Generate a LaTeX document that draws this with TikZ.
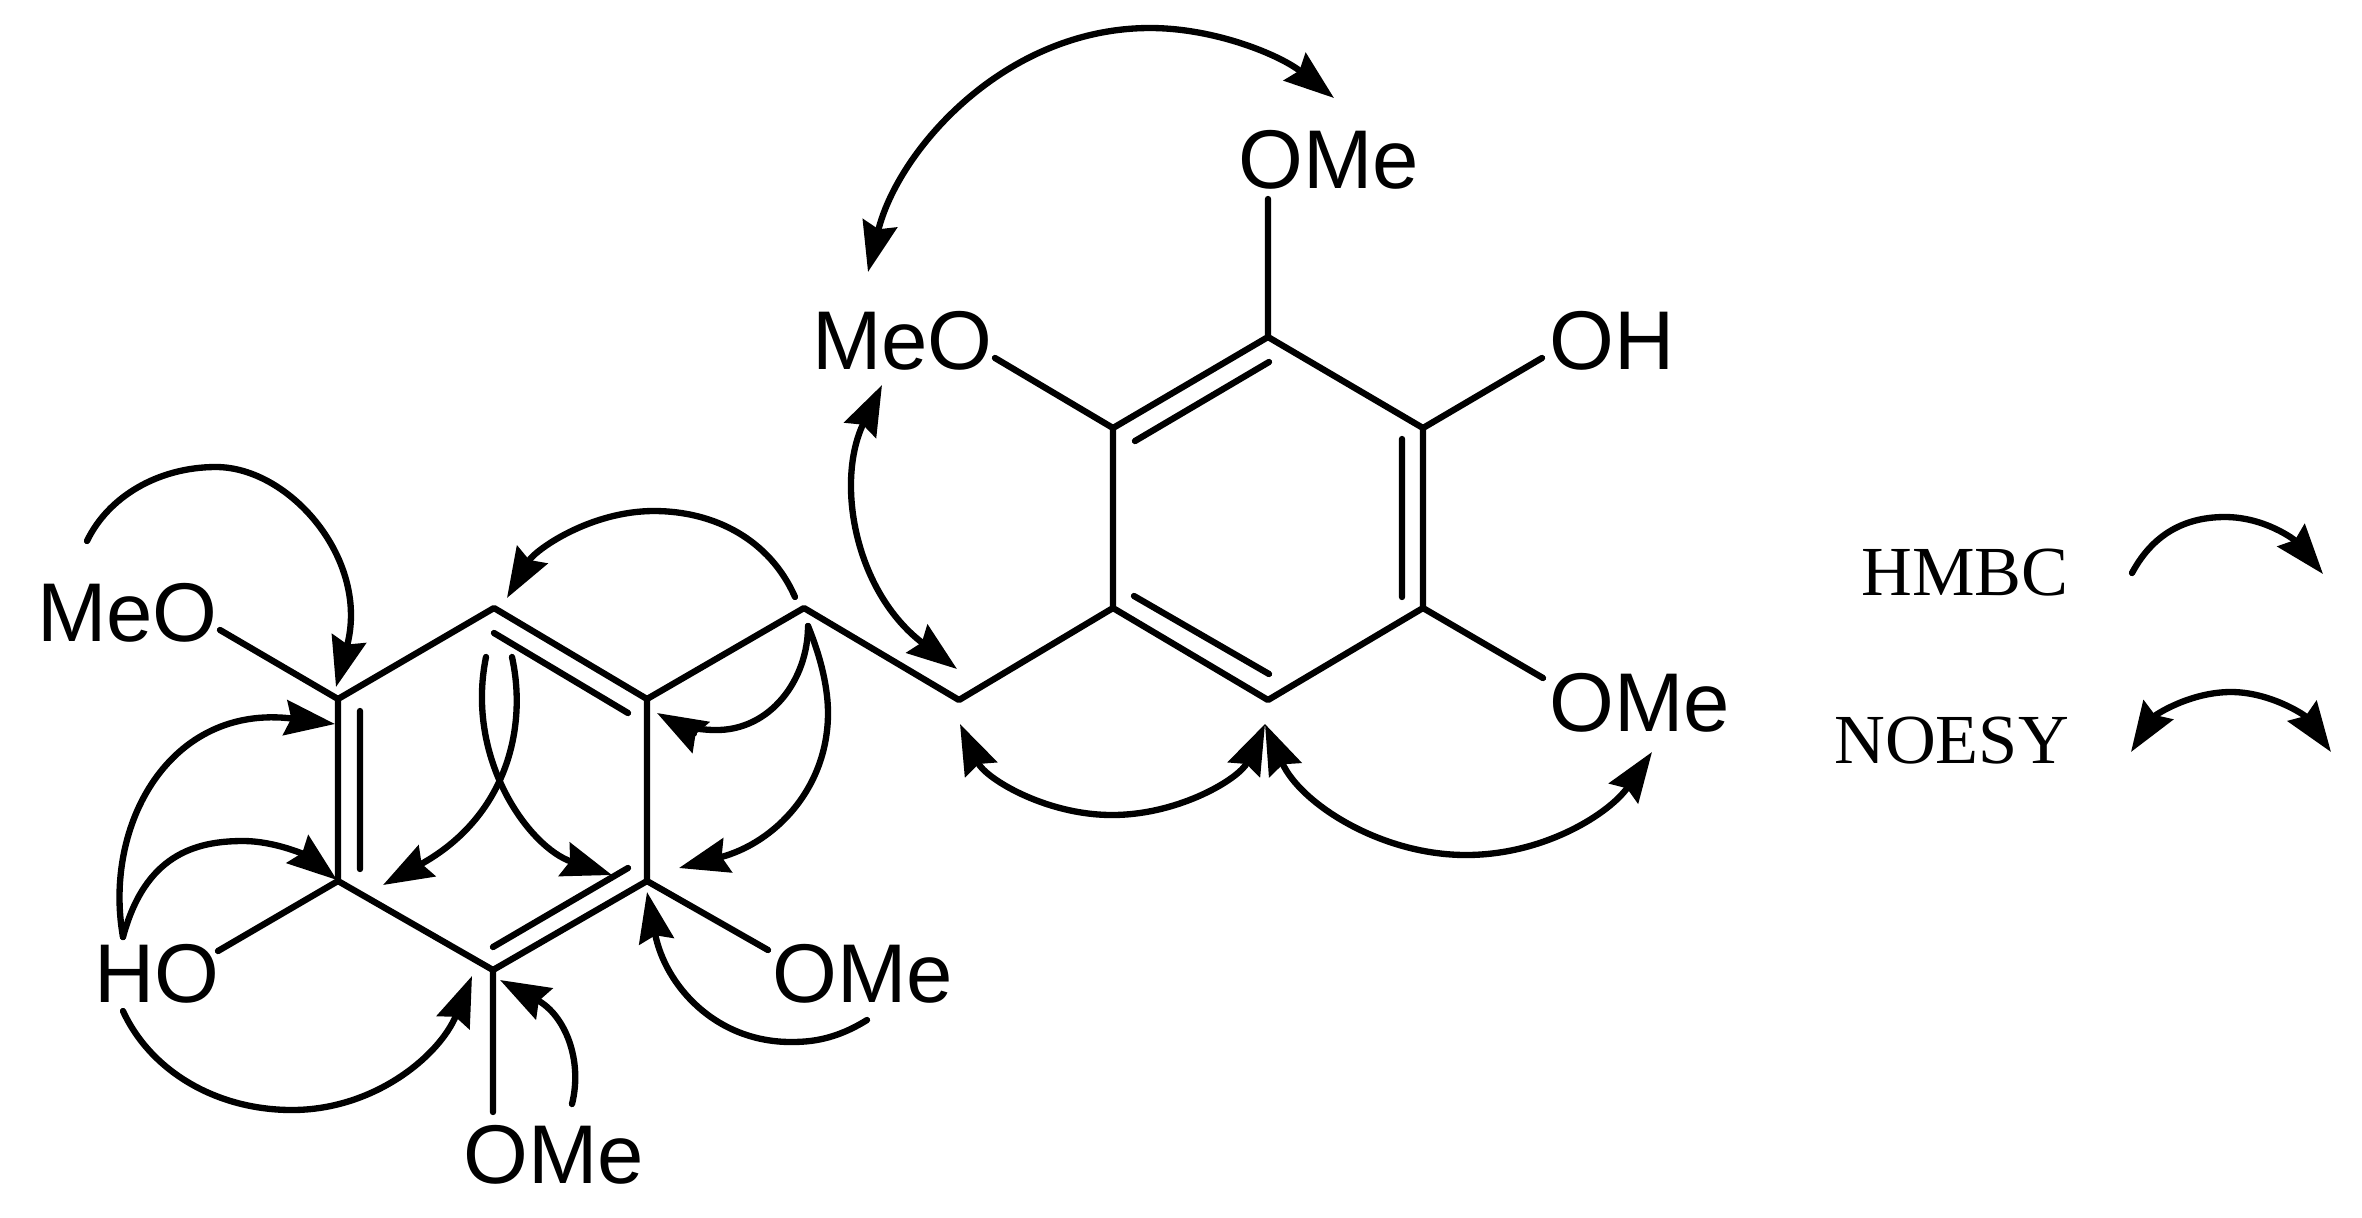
\documentclass[tikz,border=0pt]{standalone}
\usepackage{fontspec}
\setmainfont{Liberation Serif}
\setsansfont{Liberation Sans}
\usetikzlibrary{arrows.meta}

\begin{document}
\begin{tikzpicture}[x=0.01cm,y=-0.01cm,>={Stealth[length=5mm,width=3.5mm,inset=0.6mm]},inner sep=0pt,
  line width=1.8pt,line cap=round,line join=round,
  chem/.style={anchor=base west,font=\sffamily\fontsize{23.7}{24}\selectfont},
  legend/.style={anchor=base east,font=\fontsize{20}{20}\selectfont}]
\useasboundingbox (0,0) rectangle (2362,1217);
% left ring
\coordinate (a1) at (338,699);
\coordinate (a2) at (494,608);
\coordinate (a3) at (647,699);
\coordinate (a4) at (647,881);
\coordinate (a5) at (493,970);
\coordinate (a6) at (338,881);
\coordinate (i1) at (494,633);  \coordinate (i2) at (628,713);
\coordinate (i3) at (360,711);  \coordinate (i4) at (360,869);
\coordinate (i5) at (628,868);  \coordinate (i6) at (493,947);
% bridge
\coordinate (c1) at (804,608);
\coordinate (c2) at (959,700);
% right ring
\coordinate (b1) at (1113,428);
\coordinate (b2) at (1268,337);
\coordinate (b3) at (1423,428);
\coordinate (b4) at (1423,608);
\coordinate (b5) at (1268,700);
\coordinate (b6) at (1113,608);
\coordinate (j1) at (1135,441);  \coordinate (j2) at (1269,362);
\coordinate (j3) at (1402,439);  \coordinate (j4) at (1402,597);
\coordinate (j5) at (1134,596);  \coordinate (j6) at (1269,674);
%
\node[chem] (l1) at (34,641) {MeO};
\node[chem] (l2) at (91,1002) {HO};
\node[chem] (l3) at (769,1002) {OMe};
\node[chem] (l4) at (460,1183) {OMe};
\node[chem] (r1) at (1235,188) {OMe};
\node[chem] (r2) at (809,369) {MeO};
\node[chem] (r3) at (1546,369) {OH};
\node[chem] (r4) at (1546,731) {OMe};
\node[legend] (k1) at (2072,595) {HMBC};
\node[legend] (k2) at (2072,763) {NOESY};
% bond ends at the oxygens
\coordinate (o1) at (220,630);
\coordinate (o2) at (218,951);
\coordinate (o3) at (768,950);
\coordinate (o4) at (493,1112);
\coordinate (o5) at (1268,199);
\coordinate (o6) at (995,358);
\coordinate (o7) at (1542,358);
\coordinate (o8) at (1543,678);
%%
\draw (a1) -- (a2) -- (a3) -- (a4) -- (a5) -- (a6) -- cycle
 (i1) -- (i2) (i3) -- (i4) (i5) -- (i6)
 (a3) -- (c1) -- (c2) -- (b6)
 (b1) -- (b2) -- (b3) -- (b4) -- (b5) -- (b6) -- cycle
 (j1) -- (j2) (j3) -- (j4) (j5) -- (j6)
 (a1) -- (o1) (a6) -- (o2) (a4) -- (o3) (a5) -- (o4)
 (b2) -- (o5) (b1) -- (o6) (b3) -- (o7) (b4) -- (o8);
%% ends of the curved arrows
\coordinate (s1) at (87,541);    \coordinate (t1) at (336,687);
\coordinate (s2) at (795,597);   \coordinate (t2) at (507,598);
\coordinate (s3) at (808,626);   \coordinate (t3) at (657,713);
\coordinate (t4) at (679,868);
\coordinate (s5) at (512,657);   \coordinate (t5) at (383,885);
\coordinate (s6) at (486,657);   \coordinate (t6) at (612,875);
\coordinate (s7) at (123,937);   \coordinate (t7) at (335,724);
\coordinate (t8) at (337,880);
\coordinate (s9) at (123,1011);  \coordinate (t9) at (472,976);
\coordinate (s10) at (572,1104); \coordinate (t10) at (500,980);
\coordinate (s11) at (867,1020); \coordinate (t11) at (647,892);
\coordinate (n1) at (868,272);   \coordinate (n2) at (1334,98);
\coordinate (n3) at (882,385);   \coordinate (n4) at (957,669);
\coordinate (n5) at (960,724);   \coordinate (n6) at (1265,724);
\coordinate (n7) at (1652,752);
\coordinate (m1) at (2132,573);  \coordinate (m2) at (2323,574);
\coordinate (m3) at (2131,752);  \coordinate (m4) at (2331,752);
%% HMBC
\draw[->] (s1) .. controls (108,497) and (158,467) .. (216,467) .. controls (290,467) and (370,560) .. (t1);
\draw[->] (s2) .. controls (770,540) and (715,511) .. (654,511) .. controls (590,511) and (535,550) .. (t2);
\draw[->] (s3) .. controls (808,680) and (770,731) .. (715,730) .. controls (695,730) and (675,723) .. (t3);
\draw[->] (s3) .. controls (822,660) and (828,690) .. (828,713) .. controls (828,788) and (775,843) .. (t4);
\draw[->] (s5) .. controls (528,730) and (505,818) .. (t5);
\draw[->] (s6) .. controls (465,760) and (530,848) .. (t6);
\draw[->] (s7) .. controls (103,825) and (170,703) .. (t7);
\draw[->] (s7) .. controls (145,855) and (195,841) .. (243,841) .. controls (275,841) and (305,855) .. (t8);
\draw[->] (s9) .. controls (150,1070) and (215,1110) .. (292,1110) .. controls (375,1110) and (440,1055) .. (t9);
\draw[->] (s10) .. controls (583,1060) and (565,1015) .. (t10);
\draw[->] (s11) .. controls (835,1040) and (810,1042) .. (791,1042) .. controls (715,1042) and (665,985) .. (t11);
%% NOESY
\draw[<->] (n1) .. controls (898,150) and (1005,28) .. (1150,28) .. controls (1215,28) and (1280,55) .. (n2);
\draw[<->] (n3) .. controls (835,482) and (855,592) .. (n4);
\draw[<->] (n5) .. controls (985,778) and (1045,815) .. (1112,815) .. controls (1180,815) and (1240,778) .. (n6);
\draw[<->] (n6) .. controls (1300,803) and (1380,855) .. (1466,855) .. controls (1545,855) and (1610,813) .. (n7);
%% key
\draw[->] (m1) .. controls (2155,530) and (2190,517) .. (2225,517) .. controls (2265,517) and (2295,540) .. (m2);
\draw[<->] (m3) .. controls (2155,715) and (2190,692) .. (2231,692) .. controls (2270,692) and (2305,715) .. (m4);
\end{tikzpicture}
\end{document}
